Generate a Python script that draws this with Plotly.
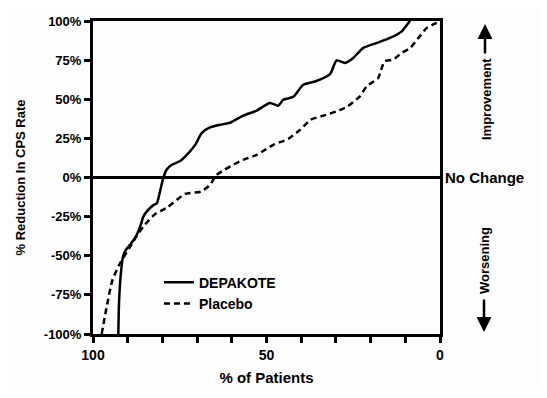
import plotly.graph_objects as go

# DEPAKOTE curve (% of patients, % reduction)
dep_x = [92.7, 92.5, 92.0, 91.3, 90.3, 89.3, 87.4, 86.2, 85.5, 84.1, 82.5, 81.6, 80.7, 79.7,
         78.8, 77.3, 74.9, 72.5, 70.5, 68.7, 66.3, 63.4, 60.5, 56.7, 52.8, 49.0, 46.6, 45.2,
         42.3, 39.4, 35.8, 31.7, 29.8, 27.4, 25.0, 22.1, 18.2, 14.4, 11.0, 9.1, 8.6]
dep_y = [-100, -80, -62, -50, -45.5, -43, -36.7, -30, -25, -20.7, -17.5, -16.4, -9, 0,
         5, 8.1, 10.5, 15.6, 21, 28.4, 32, 33.7, 35, 39.5, 42.8, 47.6, 45.9, 49.7,
         51.5, 59.3, 61.5, 66, 74.8, 73.2, 76.4, 82.8, 86, 89.2, 93.4, 98.8, 100]

# Placebo curve
pla_x = [97.5, 96.0, 94.4, 92.2, 89.3, 87.2, 85.0, 82.1, 78.5, 73.5, 68.9, 66.3, 64.6, 62.2,
         59.6, 56.7, 52.8, 48.0, 43.7, 40.3, 37.3, 33.6, 29.8, 26.6, 23.1, 21.1, 17.8, 16.8,
         15.9, 13.5, 11.0, 8.6, 6.2, 3.8, 1.0, 0.0]
pla_y = [-100, -82, -65.5, -54.8, -44.2, -36.7, -30, -23.4, -19, -10.5, -9, -4.7, 1.2, 4.9,
         8.1, 11.3, 14.5, 20.9, 24.7, 30.5, 36.9, 39.5, 42.3, 45.5, 51.9, 58.3, 63.6, 70,
         74.3, 75.4, 79.6, 82.8, 89.2, 95.6, 98.8, 100]

y_ticks = [-100, -75, -50, -25, 0, 25, 50, 75, 100]
y_ticktext = ["-100%", "-75%", "-50%", "-25%", "0%", "25%", "50%", "75%", "100%"]
x_ticks = [0, 10, 20, 30, 40, 50, 60, 70, 80, 90, 100]
x_ticktext = ["0", "", "", "", "", "50", "", "", "", "", "100"]

FONT = "Liberation Sans, Arial, sans-serif"

fig = go.Figure()
fig.add_trace(go.Scatter(x=dep_x, y=dep_y, mode="lines", name="<b>DEPAKOTE</b>",
                         line=dict(color="black", width=2.5, shape="spline", smoothing=0.6)))
fig.add_trace(go.Scatter(x=pla_x, y=pla_y, mode="lines", name="<b>Placebo</b>",
                         line=dict(color="black", width=2.5, dash="6px,4px", shape="spline", smoothing=0.6)))

# zero line
fig.add_shape(type="line", xref="paper", yref="y", x0=0, x1=1.0, y0=0, y1=0,
              line=dict(color="black", width=3))

fig.add_annotation(text="<b>No Change</b>", xref="paper", yref="y", x=1.0, y=0,
                   xanchor="left", yanchor="middle", xshift=3, showarrow=False,
                   font=dict(size=15, family=FONT, color="black"))

# page-pixel helpers (plot area spans x 93..440, y 21..334 on the page)
def px_x(p):
    return (p - 93) / 347.0

def px_y(p):
    return (334 - p) / 313.0

# Improvement arrow and label
fig.add_annotation(text="", xref="paper", yref="paper", x=px_x(485), y=px_y(24),
                   ax=0, ay=31, showarrow=True, arrowhead=2, arrowsize=1.2, arrowwidth=2.5,
                   arrowcolor="black")
fig.add_annotation(text="<b>Improvement</b>", xref="paper", yref="paper",
                   x=px_x(486), y=px_y(99), xanchor="center", yanchor="middle",
                   textangle=-90, showarrow=False,
                   font=dict(size=13, family=FONT, color="black"))
# Worsening arrow and label
fig.add_annotation(text="", xref="paper", yref="paper", x=px_x(484), y=px_y(332),
                   ax=0, ay=-34, showarrow=True, arrowhead=2, arrowsize=1.2, arrowwidth=2.5,
                   arrowcolor="black")
fig.add_annotation(text="<b>Worsening</b>", xref="paper", yref="paper",
                   x=px_x(484), y=px_y(261), xanchor="center", yanchor="middle",
                   textangle=-90, showarrow=False,
                   font=dict(size=13, family=FONT, color="black"))

fig.update_layout(
    width=531, height=382,
    margin=dict(l=85, r=99, t=13, b=56),
    paper_bgcolor="#fdfdfd", plot_bgcolor="#fdfdfd",
    font=dict(family=FONT, color="black", size=14),
    showlegend=True,
    legend=dict(x=0.19, y=0.215, xanchor="left", yanchor="top", bgcolor="rgba(0,0,0,0)",
                font=dict(size=14, family=FONT, color="black"), tracegroupgap=0),
    xaxis=dict(range=[100, 0], tickvals=x_ticks,
               ticktext=["<b>%s</b>" % t if t else "" for t in x_ticktext],
               showgrid=False, zeroline=False, showline=True, linecolor="black",
               linewidth=3, mirror=True, ticks="outside", ticklen=6, tickwidth=3,
               tickcolor="black", automargin=False,
               tickfont=dict(size=14, family=FONT),
               title=dict(text="<b>% of Patients</b>", font=dict(size=15, family=FONT),
                          standoff=11)),
    yaxis=dict(range=[-100, 100], tickvals=y_ticks,
               ticktext=["<b>%s</b>" % t for t in y_ticktext],
               showgrid=False, zeroline=False, showline=True, linecolor="black",
               linewidth=3, mirror=True, ticks="outside", ticklen=6, tickwidth=3,
               tickcolor="black", automargin=False,
               tickfont=dict(size=13, family=FONT),
               title=dict(text="<b>% Reduction In CPS Rate</b>", font=dict(size=13, family=FONT),
                          standoff=16)),
)

fig.write_html("out.html")
